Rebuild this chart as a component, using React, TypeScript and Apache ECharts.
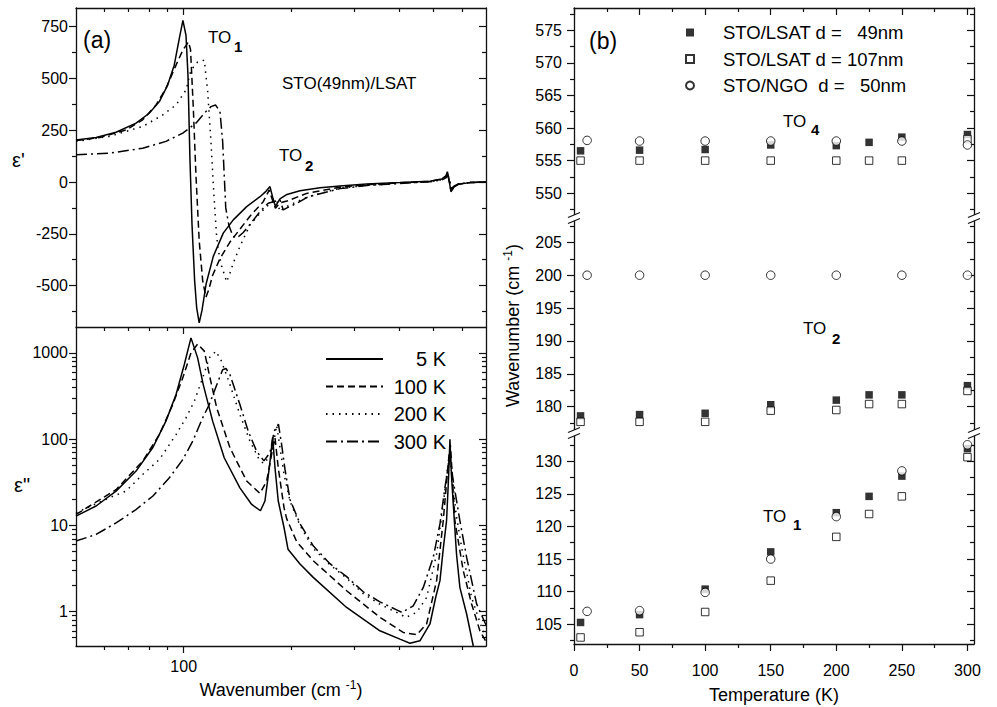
import React, { useEffect, useRef } from 'react';
import * as echarts from 'echarts';

// ---------- Panel (a): dielectric function, [wavenumber cm-1, value] ----------
const tempNames = ['5 K', '100 K', '200 K', '300 K'];

const epsReal5K: [number, number][] = [
  [50, 203], [56.9, 215], [64.7, 240], [73.6, 284], [80.1, 332], [85.5, 388], [90.2, 468], [94.1, 564],
  [97.2, 692], [99.5, 780], [101.5, 708], [102.8, 516], [104.1, 115], [105.5, -205], [107.3, -476],
  [108.7, -606], [110.5, -680], [112.5, -620], [115.6, -490], [121.0, -359], [129.0, -247], [137.6, -183],
  [150.0, -119], [163.4, -71], [169.8, -45], [174.3, -22], [177.7, -80], [180.5, -118], [185.8, -82],
  [194.4, -60], [211.4, -42], [240.4, -28], [273.4, -19], [324.6, -10], [402.2, -3], [488, 4], [527, 15],
  [541, 30], [546, 50], [553, 0], [558.5, -47], [569.5, -25], [585.5, -11], [631, -3], [700, 0],
];
const epsReal100K: [number, number][] = [
  [50, 200], [58.3, 215], [69.0, 251], [76.8, 300], [83.7, 372], [89.2, 452], [95.2, 564], [99.4, 636],
  [103.1, 676], [104.5, 640], [106.4, 356], [108.2, 35], [110.5, -284], [113.0, -476], [115.4, -556],
  [117.5, -520], [120.5, -450], [126.3, -370], [134.7, -290], [143.6, -228], [153.2, -165], [166.9, -95],
  [173.5, -38], [176.5, -80], [180.5, -127], [185.9, -100], [194.4, -92], [220.7, -55], [273.4, -25],
  [324.6, -13], [402.2, -4], [488, 3], [527, 14], [541, 28], [546, 45], [553, 0], [558.5, -42],
  [569.5, -24], [585.5, -11], [631, -3], [700, 0],
];
const epsReal200K: [number, number][] = [
  [50, 196], [61.9, 220], [76.8, 268], [87.4, 324], [95.2, 372], [101.5, 444], [104.8, 540], [109.4, 580],
  [114.2, 588], [116.7, 436], [119.2, 196], [121.3, -45], [123.5, -253], [124.9, -327], [127.7, -407],
  [131.9, -482], [134.7, -440], [137.6, -391], [143.6, -311], [153.2, -207], [163.4, -151], [174.3, -103],
  [181.9, -87], [185.9, -143], [190.7, -125], [202.4, -103], [223, -71], [273.4, -30], [324.6, -16],
  [402.2, -6], [488, 2], [527, 12], [541, 24], [547, 40], [554, 0], [559, -38], [569.5, -22], [585.5, -10],
  [631, -3], [700, 0],
];
const epsReal300K: [number, number][] = [
  [50, 131], [61.9, 139], [76.8, 163], [89.2, 196], [99.4, 236], [108.2, 284], [114.2, 332], [119.2, 364],
  [122.7, 372], [126.3, 340], [128.5, 196], [129.8, 35], [131.1, -125], [133.8, -210], [137.3, -262],
  [140.9, -270], [146.5, -245], [153.2, -205], [163.4, -143], [172.3, -103], [181.1, -92], [185.9, -87],
  [189.8, -135], [194.4, -125], [206.9, -103], [223, -71], [273.4, -32], [324.6, -17], [402.2, -7],
  [488, 1], [527, 10], [541, 20], [548, 35], [555, 0], [560, -33], [569.5, -20], [585.5, -9], [631, -3],
  [700, 0],
];

const epsImag5K: [number, number][] = [
  [50, 12.8], [56.9, 16.8], [64.7, 25], [73.6, 42.7], [81.9, 79.5], [89.2, 162], [95.2, 330], [100.4, 734],
  [104.8, 1496], [109.4, 877], [113.4, 430], [120.5, 162], [129.8, 60.9], [143.6, 27.3], [154.9, 17.5],
  [163.9, 14.8], [168.7, 19.2], [173.5, 46.6], [177.3, 105], [180.0, 46.6], [183.8, 19.2], [190.8, 9.4],
  [195.7, 5.3], [211.4, 3.57], [230.2, 2.5], [285.4, 1.12], [353.6, 0.6], [402.2, 0.48], [429, 0.43],
  [457.5, 0.46], [488, 0.72], [507, 1.5], [520.5, 2.29], [532, 5.5], [543, 11.3], [550, 35], [555, 100],
  [560, 40], [567, 17.7], [579, 4.66], [591.8, 1.9], [618, 0.94], [645, 0.4], [665, 0.3],
];
const epsImag100K: [number, number][] = [
  [50, 13.4], [64.7, 26], [76.8, 55.7], [85.5, 113], [93.2, 252], [99.4, 514], [104.8, 1002], [109.4, 1270],
  [114.2, 1050], [117.9, 563], [123.7, 231], [134.7, 79.5], [150.0, 32.7], [163.4, 23.5], [170.6, 32.7],
  [176.1, 66.5], [180.0, 104], [183.8, 46.6], [190.8, 16], [194.0, 12], [206.9, 6.5], [230.2, 3.9],
  [285.4, 1.75], [353.6, 0.86], [410.8, 0.575], [448, 0.54], [477.6, 0.72], [509.4, 2.29], [531.5, 11.3],
  [544.3, 35], [552.4, 70], [556.8, 85], [562, 45], [573, 11.3], [604.5, 3.0], [638, 1.23], [673, 0.6],
  [700, 0.45],
];
const epsImag200K: [number, number][] = [
  [50, 14], [61.9, 20.9], [69.0, 25], [76.8, 39], [85.5, 58], [95.2, 113], [101.5, 177], [107.1, 276],
  [113.0, 514], [117.9, 877], [123.1, 1050], [127.5, 803], [134.7, 430], [143.6, 193], [153.2, 95],
  [161.6, 60.9], [167.1, 52], [176.1, 66.5], [181.9, 145], [185.9, 79.5], [190.8, 39], [198.2, 19.2],
  [211.4, 10], [230.2, 5.4], [256.4, 3.5], [285.4, 2.45], [317.6, 1.62], [353.6, 1.22], [393.7, 0.98],
  [418, 0.86], [448, 0.98], [477.6, 1.46], [509.4, 4.66], [531.5, 17.7], [546, 45], [555, 65], [563.8, 35],
  [576.8, 14], [598.4, 5.57], [638, 1.46], [680.5, 0.66], [700, 0.5],
];
const epsImag300K: [number, number][] = [
  [50, 6.6], [56.9, 7.86], [64.7, 10.7], [73.6, 15.3], [81.9, 21.8], [91.2, 35.7], [99.4, 58], [106.0, 95],
  [113.0, 177], [117.9, 252], [123.5, 420], [128.5, 640], [131.3, 660], [134.7, 560], [137.6, 430],
  [143.6, 252], [151.5, 124], [159.9, 72.6], [167.6, 56], [174.3, 70], [179.1, 124], [184.0, 150],
  [187.6, 90], [191.9, 45], [198.2, 20], [211.4, 10.5], [230.2, 5.8], [256.4, 3.6], [285.4, 2.55],
  [317.6, 1.7], [353.6, 1.3], [393.7, 1.05], [407.4, 0.98], [438.2, 1.17], [467.3, 1.9], [498.4, 4.26],
  [520.5, 10.4], [537.5, 27.6], [551.6, 55], [556.8, 58], [565.6, 35], [591.8, 11.3], [618, 4.26],
  [659, 1.23], [700, 0.7],
];

// ---------- Panel (b): phonon frequencies vs temperature ----------
const sampleNames = ['STO/LSAT d =   49nm', 'STO/LSAT d = 107nm', 'STO/NGO  d =   50nm'];
const tempsLSAT = [5, 50, 100, 150, 200, 225, 250, 300];
const tempsNGO = [10, 50, 100, 150, 200, 250, 300];
const to4Lsat49 = [556.5, 556.6, 556.7, 557.4, 557.3, 557.8, 558.6, 559.0];
const to4Lsat107 = [555, 555, 555, 555, 555, 555, 555, 558.3];
const to4Ngo50 = [558.1, 558, 558, 558, 558, 558, 557.4];
const to2Lsat49 = [178.6, 178.8, 179.0, 180.3, 181.0, 181.8, 181.8, 183.2];
const to2Lsat107 = [177.7, 177.7, 177.7, 179.4, 179.5, 180.4, 180.4, 182.4];
const to2Ngo50 = [200, 200, 200, 200, 200, 200, 200];
const to1Lsat49 = [105.3, 106.5, 110.4, 116.1, 122.1, 124.6, 127.7, 131.9];
const to1Lsat107 = [103.0, 103.8, 106.9, 111.7, 118.4, 121.9, 124.6, 130.6];
const to1Ngo50 = [107.0, 107.1, 109.9, 115.0, 121.5, 128.5, 132.5];

// ---------- tick values ----------
const epsRealTicks = [-500, -250, 0, 250, 500, 750];
const epsRealMinor = [-625, -375, -125, 125, 375, 625];
const waveTicks = [100];
const waveMinor = [60, 70, 80, 90, 200, 300, 400, 500, 600];
const epsImagTicks = [1, 10, 100, 1000];
const epsImagMinor = [0.5, 0.6, 0.7, 0.8, 0.9, 2, 3, 4, 5, 6, 7, 8, 9, 20, 30, 40, 50, 60, 70, 80, 90,
  200, 300, 400, 500, 600, 700, 800, 900];
const tempTicks = [0, 50, 100, 150, 200, 250, 300];
const tempMinor = [25, 75, 125, 175, 225, 275];
const to4Ticks = [550, 555, 560, 565, 570, 575];
const to4Minor = [547.5, 552.5, 557.5, 562.5, 567.5, 572.5, 577.5];
const to2Ticks = [180, 185, 190, 195, 200, 205];
const to2Minor = [177.5, 182.5, 187.5, 192.5, 197.5, 202.5, 207.5];
const to1Ticks = [105, 110, 115, 120, 125, 130];
const to1Minor = [102.5, 107.5, 112.5, 117.5, 122.5, 127.5, 132.5];

const FONT = '"Liberation Sans", Arial, Helvetica, sans-serif';
const INK = '#111';

interface AxOpt {
  showMain?: boolean;
  labels?: boolean;
  labelMargin?: number;
  opp?: boolean;
  extra?: any;
}

function makeAxes(dim: 'x' | 'y', gridIndex: number, type: 'value' | 'log', min: number, max: number,
  majors: number[], minors: number[], o: AxOpt) {
  const [p0, p1] = dim === 'x' ? ['bottom', 'top'] : ['left', 'right'];
  const base: any = { type, gridIndex, min, max, splitLine: { show: false } };
  if (type === 'log') base.logBase = 10;
  const lineOn = { show: true, onZero: false, lineStyle: { color: INK, width: 1.3 } };
  const lineOff = { show: false, onZero: false };
  const tick = (vals: number[], len: number, inside: boolean) => ({
    show: true, customValues: vals, length: len, inside, lineStyle: { color: INK, width: 1.2 },
  });
  const noLabel = { show: false };
  const showMain = o.showMain !== false;
  const axes: any[] = [];
  axes.push({
    ...base, position: p0, show: showMain,
    axisLine: lineOn,
    axisTick: tick(majors, 7, false),
    axisLabel: o.labels ? {
      show: true, customValues: majors, margin: o.labelMargin ?? 8, color: '#000', fontSize: 16,
      fontFamily: FONT, formatter: (v: number) => String(v),
    } : noLabel,
    ...(o.extra || {}),
  });
  if (showMain) axes.push({ ...base, position: p0, axisLine: lineOff, axisTick: tick(minors, 4, false), axisLabel: noLabel });
  if (o.opp) {
    axes.push({ ...base, position: p1, axisLine: lineOn, axisTick: tick(majors, 7, true), axisLabel: noLabel });
    axes.push({ ...base, position: p1, axisLine: lineOff, axisTick: tick(minors, 4, true), axisLabel: noLabel });
  }
  return axes;
}

const supName = () => ({
  fontSize: 18, fontFamily: FONT, color: '#000', lineHeight: 22,
  rich: { sup: { fontSize: 12, fontFamily: FONT, color: '#000', verticalAlign: 'top', lineHeight: 12 } },
});

function buildOption() {
  const xAxis: any[] = [];
  const yAxis: any[] = [];
  const addX = (axes: any[]) => { const i = xAxis.length; xAxis.push(...axes); return i; };
  const addY = (axes: any[]) => { const i = yAxis.length; yAxis.push(...axes); return i; };

  const grid = [
    { left: 76, top: 8, width: 410, height: 319 },
    { left: 76, top: 327, width: 410, height: 319 },
    { left: 574, top: 8, width: 400, height: 210 },
    { left: 574, top: 218, width: 400, height: 215 },
    { left: 574, top: 433, width: 400, height: 211 },
  ].map((g) => ({ ...g, outerBoundsMode: 'none' }));

  const x0 = addX(makeAxes('x', 0, 'log', 50, 700, waveTicks, waveMinor, { opp: true }));
  const x1 = addX(makeAxes('x', 1, 'log', 50, 700, waveTicks, waveMinor, {
    labels: true, labelMargin: 12,
    extra: { name: 'Wavenumber (cm {sup|-1})', nameLocation: 'middle', nameGap: 33, nameTextStyle: supName() },
  }));
  const x2 = addX(makeAxes('x', 2, 'value', 0, 305, tempTicks, tempMinor, { showMain: false, opp: true }));
  const x3 = addX(makeAxes('x', 3, 'value', 0, 305, tempTicks, tempMinor, { showMain: false }));
  const x4 = addX(makeAxes('x', 4, 'value', 0, 305, tempTicks, tempMinor, {
    labels: true, labelMargin: 18,
    extra: { name: 'Temperature (K)', nameLocation: 'middle', nameGap: 42, nameTextStyle: { fontSize: 18, fontFamily: FONT, color: '#000' } },
  }));

  const y0 = addY(makeAxes('y', 0, 'value', -700, 840, epsRealTicks, epsRealMinor, { labels: true, labelMargin: 8, opp: true }));
  const y1 = addY(makeAxes('y', 1, 'log', 0.4, 2000, epsImagTicks, epsImagMinor, { labels: true, labelMargin: 8, opp: true }));
  const y2 = addY(makeAxes('y', 2, 'value', 546.2, 578.4, to4Ticks, to4Minor, { labels: true, labelMargin: 12, opp: true }));
  const y3 = addY(makeAxes('y', 3, 'value', 176, 208.7, to2Ticks, to2Minor, {
    labels: true, labelMargin: 12, opp: true,
    extra: { name: 'Wavenumber (cm {sup|-1})', nameLocation: 'middle', nameGap: 50, nameRotate: 90, nameTextStyle: supName() },
  }));
  const y4 = addY(makeAxes('y', 4, 'value', 102, 134.3, to1Ticks, to1Minor, { labels: true, labelMargin: 12, opp: true }));

  const dashes: any[] = ['solid', [7, 4], [1.5, 5], [11, 4, 2, 4]];
  const realSets = [epsReal5K, epsReal100K, epsReal200K, epsReal300K];
  const imagSets = [epsImag5K, epsImag100K, epsImag200K, epsImag300K];

  const series: any[] = [];
  realSets.forEach((d, i) => series.push({
    type: 'line', name: tempNames[i], xAxisIndex: x0, yAxisIndex: y0, data: d, symbol: 'none',
    showSymbol: false, lineStyle: { color: '#000', width: 1.5, type: dashes[i] }, itemStyle: { color: '#000' },
  }));
  imagSets.forEach((d, i) => series.push({
    type: 'line', name: tempNames[i], xAxisIndex: x1, yAxisIndex: y1, data: d, symbol: 'none',
    showSymbol: false, lineStyle: { color: '#000', width: 1.5, type: dashes[i] }, itemStyle: { color: '#000' },
  }));

  const markerStyles = [
    { symbol: 'rect', symbolSize: 7.5, itemStyle: { color: '#000' } },
    { symbol: 'rect', symbolSize: 7.5, itemStyle: { color: '#fff', borderColor: '#000', borderWidth: 1 } },
    { symbol: 'circle', symbolSize: 8.5, itemStyle: { color: '#fff', borderColor: '#000', borderWidth: 1 } },
  ];
  const sampleTemps = [tempsLSAT, tempsLSAT, tempsNGO];
  const modes = [
    { xi: x2, yi: y2, vals: [to4Lsat49, to4Lsat107, to4Ngo50] },
    { xi: x3, yi: y3, vals: [to2Lsat49, to2Lsat107, to2Ngo50] },
    { xi: x4, yi: y4, vals: [to1Lsat49, to1Lsat107, to1Ngo50] },
  ];
  for (let s = 0; s < 3; s++) {
    modes.forEach((m) => series.push({
      type: 'scatter', name: sampleNames[s], xAxisIndex: m.xi, yAxisIndex: m.yi,
      data: sampleTemps[s].map((t, k) => [t, m.vals[s][k]]), ...markerStyles[s], z: 3 + s,
    }));
  }

  const txt = (text: string, x: number, y: number, size: number, extra: any = {}) => ({
    type: 'text', x, y, z: 100,
    style: { text, fontSize: size, fontFamily: FONT, fill: '#000', align: 'left', verticalAlign: 'middle', ...extra },
  });
  const breakMark = (x: number, y: number) => [
    { type: 'rect', z: 100, shape: { x: x - 5, y: y - 3, width: 10, height: 6 }, style: { fill: '#fff' } },
    { type: 'line', z: 101, shape: { x1: x - 6, y1: y - 0.5, x2: x + 6, y2: y - 5.5 }, style: { stroke: INK, lineWidth: 1.2 } },
    { type: 'line', z: 101, shape: { x1: x - 6, y1: y + 5.5, x2: x + 6, y2: y + 0.5 }, style: { stroke: INK, lineWidth: 1.2 } },
  ];

  const graphic: any[] = [
    txt('(a)', 83, 40, 23),
    txt('TO', 208, 37, 17), txt('1', 234, 46, 15, { fontWeight: 'bold' }),
    txt('STO(49nm)/LSAT', 282, 83, 17),
    txt('TO', 279, 155, 17), txt('2', 305, 165, 15, { fontWeight: 'bold' }),
    txt("ε'", 12, 160, 20),
    txt('ε"', 14, 485, 20),
    txt('(b)', 589, 41, 23),
    txt('TO', 783, 121, 17), txt('4', 811, 129, 15, { fontWeight: 'bold' }),
    txt('TO', 803, 328, 17), txt('2', 832, 338, 15, { fontWeight: 'bold' }),
    txt('TO', 763, 516, 17), txt('1', 793, 524, 15, { fontWeight: 'bold' }),
    ...breakMark(574, 218), ...breakMark(574, 433), ...breakMark(974, 218), ...breakMark(974, 433),
  ];

  return {
    animation: false,
    backgroundColor: '#fff',
    textStyle: { fontFamily: FONT },
    grid, xAxis, yAxis, series, graphic,
    legend: [
      {
        data: tempNames, orient: 'vertical', left: 325, top: 349, padding: 0,
        itemWidth: 57, itemHeight: 12, itemGap: 7.5,
        selectedMode: false,
        itemStyle: { opacity: 0 },
        formatter: (n: string) => `{a|${n}}`,
        textStyle: { color: '#000', fontSize: 20, fontFamily: FONT, rich: { a: { width: 58, align: 'right', fontSize: 20, lineHeight: 20, fontFamily: FONT, color: '#000' } } },
      },
      {
        data: sampleNames, orient: 'vertical', left: 685, top: 23, padding: 0,
        itemWidth: 8, itemHeight: 8, itemGap: 7.5,
        selectedMode: false,
        formatter: (n: string) => `{s| }{t|${n}}`,
        textStyle: {
          color: '#000', fontSize: 18, fontFamily: FONT,
          rich: { s: { width: 24, lineHeight: 20 }, t: { fontSize: 18.5, lineHeight: 20, fontFamily: FONT, color: '#000' } },
        },
      },
    ],
  };
}

export default function App() {
  const ref = useRef<HTMLDivElement>(null);
  useEffect(() => {
    document.body.style.margin = '0';
    const chart = echarts.init(ref.current as HTMLDivElement, undefined, { renderer: 'svg' });
    chart.setOption(buildOption() as any);
    return () => chart.dispose();
  }, []);
  return <div ref={ref} style={{ width: 997, height: 707 }} />;
}
